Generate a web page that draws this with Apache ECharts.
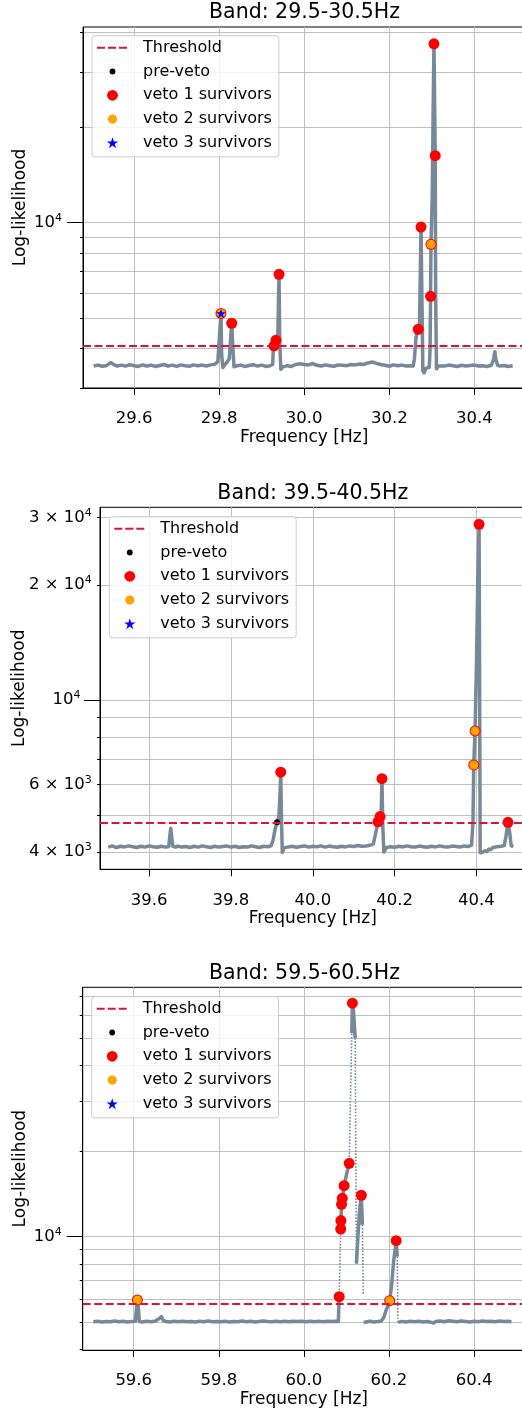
<!DOCTYPE html>
<html>
<head>
<meta charset="utf-8">
<script src="https://cdn.jsdelivr.net/npm/echarts@6/dist/echarts.min.js"></script>
<style>
  html, body { margin: 0; padding: 0; background: #fff; }
  #main { width: 522px; height: 1416px; }
</style>
</head>
<body>
<div id="main"></div>
<script>
// ---- Band 29.5-30.5 Hz ----
const b1Freq = [29.505, 29.515, 29.525, 29.535, 29.545, 29.552, 29.56, 29.57, 29.58, 29.59, 29.6, 29.61, 29.62, 29.63, 29.64, 29.65, 29.66, 29.67, 29.68, 29.69,
  29.7, 29.71, 29.72, 29.73, 29.74, 29.75, 29.76, 29.77, 29.78, 29.79, 29.797, 29.801, 29.8044, 29.806, 29.809, 29.814, 29.819, 29.824, 29.827, 29.8296,
  29.832, 29.835, 29.84, 29.85, 29.86, 29.87, 29.88, 29.89, 29.9, 29.91, 29.92, 29.926, 29.927, 29.929, 29.9337, 29.938, 29.9408, 29.9425, 29.945, 29.95,
  29.96, 29.97, 29.98, 29.99, 30.0, 30.01, 30.02, 30.03, 30.04, 30.05, 30.06, 30.07, 30.08, 30.09, 30.1, 30.11, 30.12, 30.13, 30.14, 30.15,
  30.16, 30.17, 30.18, 30.19, 30.2, 30.21, 30.22, 30.23, 30.24, 30.25, 30.256, 30.259, 30.263, 30.268, 30.271, 30.2746, 30.279, 30.282, 30.286, 30.29,
  30.294, 30.296, 30.297, 30.298, 30.301, 30.303, 30.305, 30.3065, 30.308, 30.309, 30.311, 30.316, 30.32, 30.33, 30.34, 30.35, 30.36, 30.37, 30.38, 30.39,
  30.4, 30.41, 30.42, 30.43, 30.44, 30.445, 30.448, 30.451, 30.455, 30.46, 30.47, 30.48, 30.49];
const b1Like = [3520, 3545, 3515, 3530, 3610, 3560, 3520, 3545, 3520, 3555, 3530, 3510, 3550, 3520, 3545, 3510, 3535, 3560, 3520, 3545,
  3510, 3550, 3530, 3515, 3550, 3530, 3545, 3520, 3550, 3565, 3640, 4400, 5165, 3800, 3480, 3560, 3630, 3720, 4300, 4808,
  4100, 3500, 3520, 3545, 3510, 3535, 3555, 3520, 3545, 3510, 3530, 3560, 3900, 4080, 4250, 4350, 6865, 4200, 3440, 3500,
  3530, 3510, 3560, 3580, 3560, 3550, 3585, 3540, 3520, 3550, 3530, 3515, 3550, 3540, 3530, 3560, 3550, 3575, 3560, 3600,
  3625, 3590, 3560, 3540, 3515, 3550, 3530, 3545, 3520, 3530, 3520, 3700, 4350, 4600, 4750, 9690, 3400, 3350, 3460, 3500,
  3490, 4000, 5852, 8544, 12000, 22000, 36800, 25000, 16290, 6000, 3450, 3520, 3540, 3520, 3545, 3530, 3510, 3540, 3520, 3535,
  3545, 3520, 3530, 3510, 3540, 3700, 3905, 3660, 3540, 3520, 3535, 3510, 3530];
const b1DotFreq = [];
const b1DotLike = [];
const b1Threshold = 4095;
const b1Veto1 = [[29.8044, 5165], [29.8296, 4808], [29.929, 4080], [29.9337, 4250], [29.9408, 6865], [30.268, 4600],
  [30.2746, 9690], [30.297, 5852], [30.298, 8544], [30.305, 36800], [30.308, 16290]];
const b1PreVeto = b1Veto1;
const b1Veto2 = [[29.8044, 5165], [30.298, 8544]];
const b1Veto3 = [[29.8044, 5165]];
const b1YTicks = [3000, 4000, 5000, 6000, 7000, 8000, 9000, 10000, 20000, 30000, 40000];
const b1YLabels = [10000];

// ---- Band 39.5-40.5 Hz ----
const b2Freq = [39.5, 39.51, 39.52, 39.53, 39.54, 39.55, 39.56, 39.57, 39.58, 39.59, 39.6, 39.61, 39.62, 39.63, 39.64, 39.648, 39.651, 39.653, 39.655, 39.658,
  39.665, 39.67, 39.68, 39.69, 39.7, 39.71, 39.72, 39.73, 39.74, 39.75, 39.76, 39.77, 39.78, 39.79, 39.8, 39.81, 39.82, 39.83, 39.84, 39.85,
  39.86, 39.87, 39.88, 39.89, 39.898, 39.903, 39.908, 39.9127, 39.917, 39.92, 39.9217, 39.9235, 39.9255, 39.93, 39.94, 39.95, 39.96, 39.97, 39.98, 39.99,
  40.0, 40.01, 40.02, 40.03, 40.04, 40.05, 40.06, 40.07, 40.08, 40.09, 40.1, 40.11, 40.12, 40.13, 40.14, 40.148, 40.153, 40.1595, 40.1644, 40.167,
  40.168, 40.169, 40.171, 40.1735, 40.18, 40.19, 40.2, 40.21, 40.22, 40.23, 40.24, 40.25, 40.26, 40.27, 40.28, 40.29, 40.3, 40.31, 40.32, 40.33,
  40.34, 40.35, 40.36, 40.37, 40.38, 40.388, 40.3915, 40.3933, 40.3965, 40.4, 40.403, 40.4063, 40.4075, 40.409, 40.415, 40.42, 40.425, 40.43, 40.435, 40.44,
  40.45, 40.46, 40.468, 40.472, 40.477, 40.481, 40.485, 40.49];
const b2Like = [4120, 4150, 4110, 4140, 4125, 4150, 4130, 4110, 4140, 4120, 4150, 4130, 4115, 4140, 4120, 4135, 4450, 4614, 4400, 4140,
  4120, 4145, 4120, 4135, 4110, 4140, 4120, 4150, 4130, 4110, 4140, 4120, 4135, 4150, 4120, 4140, 4110, 4130, 4120, 4150,
  4130, 4110, 4140, 4130, 4150, 4300, 4600, 4783, 4950, 5700, 6470, 4800, 3990, 4100, 4125, 4140, 4115, 4135, 4150, 4120,
  4140, 4130, 4150, 4120, 4145, 4130, 4115, 4140, 4125, 4150, 4135, 4160, 4140, 4150, 4165, 4200, 4450, 4800, 4954, 5050,
  5600, 6225, 4700, 4000, 4110, 4130, 4115, 4140, 4125, 4150, 4130, 4120, 4145, 4130, 4115, 4140, 4125, 4150, 4130, 4120,
  4145, 4135, 4120, 4150, 4135, 4170, 4800, 6760, 8300, 12500, 20000, 28830, 12000, 3980, 3990, 4030, 4010, 4070, 4060, 4110,
  4130, 4140, 4160, 4400, 4783, 4500, 4150, 4130];
const b2DotFreq = [];
const b2DotLike = [];
const b2Threshold = 4780;
const b2PreVeto = [[39.9127, 4783], [39.9217, 6470], [40.1595, 4800], [40.1644, 4954], [40.169, 6225],
  [40.3933, 6760], [40.3965, 8300], [40.4063, 28830], [40.477, 4783]];
const b2Veto1 = [[39.9217, 6470], [40.1595, 4800], [40.1644, 4954], [40.169, 6225],
  [40.3933, 6760], [40.3965, 8300], [40.4063, 28830], [40.477, 4783]];
const b2Veto2 = [[40.3933, 6760], [40.3965, 8300]];
const b2Veto3 = [];
const b2YTicks = [4000, 5000, 6000, 7000, 8000, 9000, 10000, 20000, 30000];
const b2YLabels = [4000, 6000, 10000, 20000, 30000];

// ---- Band 59.5-60.5 Hz ----
const b3Freq = [59.505, 59.515, 59.525, 59.535, 59.545, 59.555, 59.565, 59.575, 59.585, 59.595, 59.604, 59.606, 59.6086, 59.611, 59.613, 59.62, 59.63, 59.64, 59.65, 59.66,
  59.665, 59.67, 59.675, 59.685, 59.695, 59.705, 59.715, 59.725, 59.735, 59.745, 59.755, 59.765, 59.775, 59.785, 59.795, 59.805, 59.815, 59.825, 59.835, 59.845,
  59.855, 59.865, 59.875, 59.885, 59.895, 59.905, 59.915, 59.925, 59.935, 59.945, 59.955, 59.965, 59.975, 59.985, 59.995, 60.005, 60.015, 60.025, 60.035, 60.045,
  60.055, 60.065, 60.075, 60.081, 60.082, 60.083, null, 60.0865, 60.087, 60.0885, 60.0903, 60.0945, 60.1, 60.1065, null, 60.1125, 60.114, 60.1165, 60.1205, null,
  60.1235, 60.127, 60.131, 60.135, 60.1375, null, 60.1405, 60.145, 60.155, 60.165, 60.175, 60.182, 60.188, 60.194, 60.1985, 60.2017, 60.206, 60.211, 60.217, 60.2195,
  null, 60.222, 60.23, 60.24, 60.25, 60.26, 60.27, 60.28, 60.29, 60.3, 60.305, 60.31, 60.32, 60.33, 60.34, 60.35, 60.36, 60.37, 60.38, 60.39,
  60.4, 60.41, 60.42, 60.43, 60.44, 60.45, 60.46, 60.47, 60.48, 60.488];
const b3Like = [5020, 5040, 5010, 5030, 5015, 5045, 5020, 5035, 5010, 5030, 5040, 5500, 5985, 5600, 5030, 5010, 5035, 5020, 5040, 5150,
  5230, 5060, 5030, 5010, 5035, 5020, 5040, 5015, 5030, 5010, 5035, 5020, 5045, 5015, 5030, 5020, 5040, 5010, 5030, 5020,
  5045, 5020, 5035, 5010, 5030, 5050, 5030, 5020, 5040, 5015, 5035, 5020, 5040, 5025, 5035, 5015, 5040, 5020, 5035, 5020,
  5040, 5025, 5035, 5030, 5600, 6150, null, 10640, 11390, 13000, 13650, 15120, 16500, 18120, null, 52000, 66400, 63000, 50000, null,
  8040, 10000, 12500, 13990, 11000, null, 4990, 5020, 5040, 5010, 5030, 5050, 5200, 5550, 5750, 5954, 6700, 8200, 9680, 8500,
  null, 4990, 5030, 5010, 5040, 5020, 5035, 5010, 5030, 4990, 4960, 5030, 5050, 5020, 5060, 5040, 5020, 5045, 5030, 5010,
  5040, 5020, 5045, 5030, 5040, 5020, 5050, 5030, 5040, 5020];
const b3DotFreq = [60.083, 60.0865, null, 60.1065, 60.1125, null, 60.1205, 60.1235, null, 60.1375, 60.1395, null, 60.2195, 60.221];
const b3DotLike = [6150, 10640, null, 18120, 52000, null, 50000, 8040, null, 11000, 6300, null, 8500, 5000];
const b3Threshold = 5795;
const b3Veto1 = [[59.6086, 5985], [60.083, 6150], [60.0865, 10640], [60.087, 11390], [60.0885, 13000], [60.0903, 13650],
  [60.0945, 15120], [60.1065, 18120], [60.114, 66400], [60.135, 13990], [60.2017, 5954], [60.217, 9680]];
const b3PreVeto = b3Veto1;
const b3Veto2 = [[59.6086, 5985], [60.2017, 5954]];
const b3Veto3 = [];
const b3YTicks = [4000, 5000, 6000, 7000, 8000, 9000, 10000, 20000, 30000, 40000, 50000, 60000, 70000];
const b3YLabels = [10000];

const MAJOR = 10000;

const bands = [
  { title: 'Band: 29.5-30.5Hz', freq: b1Freq, like: b1Like, dotFreq: b1DotFreq, dotLike: b1DotLike, thr: b1Threshold,
    pre: b1PreVeto, v1: b1Veto1, v2: b1Veto2, v3: b1Veto3, yTicks: b1YTicks, yLabels: b1YLabels,
    xTicks: [29.6, 29.8, 30.0, 30.2, 30.4], xMin: 29.48, xMax: 30.52, yMin: 3000, yMax: 41600 },
  { title: 'Band: 39.5-40.5Hz', freq: b2Freq, like: b2Like, dotFreq: b2DotFreq, dotLike: b2DotLike, thr: b2Threshold,
    pre: b2PreVeto, v1: b2Veto1, v2: b2Veto2, v3: b2Veto3, yTicks: b2YTicks, yLabels: b2YLabels,
    xTicks: [39.6, 39.8, 40.0, 40.2, 40.4], xMin: 39.48, xMax: 40.52, yMin: 3604, yMax: 31950 },
  { title: 'Band: 59.5-60.5Hz', freq: b3Freq, like: b3Like, dotFreq: b3DotFreq, dotLike: b3DotLike, thr: b3Threshold,
    pre: b3PreVeto, v1: b3Veto1, v2: b3Veto2, v3: b3Veto3, yTicks: b3YTicks, yLabels: b3YLabels,
    xTicks: [59.6, 59.8, 60.0, 60.2, 60.4], xMin: 59.48, xMax: 60.52, yMin: 3990, yMax: 75500 }
];

// pixel layout of the three panels
const layout = [
  { left: 83, top: 27, width: 442.4, height: 361, titleX: 304.5, titleTop: 2, legendX: 92, legendY: 35.7, yNameGap: 54, majorMargin: 21 },
  { left: 100, top: 507.3, width: 425.6, height: 362, titleX: 312.8, titleTop: 482.7, legendX: 109.3, legendY: 516.7, yNameGap: 71.5, majorMargin: 19.5 },
  { left: 82.7, top: 987.3, width: 442.4, height: 362.7, titleX: 304.5, titleTop: 962.7, legendX: 91.7, legendY: 996.7, yNameGap: 54, majorMargin: 21 }
];

const FONT = 'DejaVu Sans';
const GRAY = '#778899';
const GRID_LINE = '#c0c0c0';
const COLORS = { thr: '#DC143C', pre: '#000000', v1: '#FF0000', v2: '#FFA500', v3: '#0000FF' };

function circlePath(cx, cy, r) {
  return `M${cx - r},${cy}a${r},${r} 0 1,0 ${2 * r},0a${r},${r} 0 1,0 ${-2 * r},0Z`;
}
function starPath(cx, cy, R) {
  let d = '';
  for (let k = 0; k < 10; k++) {
    const rad = k % 2 ? R * 0.382 : R;
    const a = k * Math.PI / 5;
    d += (k ? 'L' : 'M') + (cx + rad * Math.sin(a)).toFixed(2) + ',' + (cy - rad * Math.cos(a)).toFixed(2);
  }
  return d + 'Z';
}
const STAR = 'path://' + starPath(10, 10, 10);
// legend icons share one 41x12 box so they keep their own sizes
const BOX = 'M0,0L0,0M41,12L41,12';
const legendItems = [
  { name: 'Threshold', icon: 'path://' + BOX + 'M0,5H8V7H0ZM11,5H19V7H11ZM22,5H30V7H22Z', itemStyle: { color: COLORS.thr } },
  { name: 'pre-veto', icon: 'path://' + BOX + circlePath(15.5, 6, 2.9), itemStyle: { color: COLORS.pre } },
  { name: 'veto 1 survivors', icon: 'path://' + BOX + circlePath(15.5, 6, 5.4), itemStyle: { color: COLORS.v1 } },
  { name: 'veto 2 survivors', icon: 'path://' + BOX + circlePath(15.5, 6, 4.6), itemStyle: { color: COLORS.v2 } },
  { name: 'veto 3 survivors', icon: 'path://' + BOX + starPath(15.5, 6.4, 6), itemStyle: { color: COLORS.v3 } }
];

function toData(freq, like) {
  return freq.map((f, i) => (f === null || like[i] === null) ? ['-', '-'] : [f, like[i]]);
}
function sciLabel(v) {
  const e = Math.floor(Math.log10(v) + 1e-9);
  const m = Math.round(v / Math.pow(10, e));
  return (m === 1 ? '' : m + ' × ') + '10{sup|' + e + '}';
}

const textBase = { color: '#000', fontFamily: FONT };
const labelStyle = {
  ...textBase, fontSize: 16.5, formatter: sciLabel,
  rich: { sup: { ...textBase, fontSize: 11, padding: [0, 0, 9, 0] } }
};
const option = {
  animation: false,
  backgroundColor: '#fff',
  title: [], legend: [], grid: [], xAxis: [], yAxis: [], series: []
};

bands.forEach((b, i) => {
  const L = layout[i];
  const minorLabels = b.yLabels.filter(v => v !== MAJOR);
  option.title.push({
    text: b.title, left: L.titleX, top: L.titleTop, textAlign: 'center', padding: 0,
    textStyle: { ...textBase, fontSize: 20.5, fontWeight: 'normal' }
  });
  option.grid.push({
    left: L.left, top: L.top, width: L.width, height: L.height,
    show: true, borderColor: '#000', borderWidth: 1, outerBoundsMode: 'none'
  });
  option.legend.push({
    orient: 'vertical', left: L.legendX, top: L.legendY, padding: [3, 7, 5, 5],
    itemWidth: 41, itemHeight: 12, itemGap: 5.8, selectedMode: false, symbolKeepAspect: true,
    backgroundColor: 'rgba(255,255,255,0.8)', borderColor: '#cccccc', borderWidth: 1, borderRadius: 3,
    itemStyle: { borderWidth: 0 },
    textStyle: { ...textBase, fontSize: 16, lineHeight: 18 },
    data: legendItems
  });
  option.xAxis.push({
    gridIndex: i, type: 'value', min: b.xMin, max: b.xMax,
    name: 'Frequency [Hz]', nameLocation: 'middle', nameGap: 41, nameMoveOverlap: false,
    nameTextStyle: { ...textBase, fontSize: 17 },
    axisLine: { onZero: false, lineStyle: { color: '#000', width: 1 } },
    axisTick: { customValues: b.xTicks, length: 7, lineStyle: { color: '#000' } },
    axisLabel: { customValues: b.xTicks, formatter: v => v.toFixed(1), margin: 22.5, ...textBase, fontSize: 16.5 },
    splitLine: { show: true, lineStyle: { color: GRID_LINE, width: 1 } }
  });
  // main y axis: short ticks, grid lines, labels on the minor values
  option.yAxis.push({
    gridIndex: i, type: 'log', logBase: 10, min: b.yMin, max: b.yMax, position: 'left',
    name: 'Log-likelihood', nameLocation: 'middle', nameGap: L.yNameGap, nameRotate: 90, nameMoveOverlap: false,
    nameTextStyle: { ...textBase, fontSize: 17 },
    axisLine: { show: true, onZero: false, lineStyle: { color: '#000', width: 1 } },
    axisTick: { customValues: b.yTicks, length: 3, lineStyle: { color: '#000' } },
    axisLabel: { show: minorLabels.length > 0, customValues: minorLabels, margin: 8.3, ...labelStyle },
    splitLine: { show: true, lineStyle: { color: GRID_LINE, width: 1 } },
    minorTick: { show: false }, minorSplitLine: { show: false }
  });
  // second axis carries the long major tick and its label
  option.yAxis.push({
    gridIndex: i, type: 'log', logBase: 10, min: b.yMin, max: b.yMax, position: 'left',
    axisLine: { show: false },
    axisTick: { show: true, customValues: [MAJOR], length: 16, lineStyle: { color: '#000' } },
    axisLabel: { customValues: [MAJOR], margin: L.majorMargin, ...labelStyle },
    splitLine: { show: false }
  });

  const ax = { xAxisIndex: i, yAxisIndex: 2 * i, silent: true, z: 2 };
  const fill = color => ({ color, opacity: 1 });
  option.series.push(
    { ...ax, type: 'line', name: 'likelihood', data: toData(b.freq, b.like), symbol: 'none', connectNulls: false,
      lineStyle: { color: GRAY, width: 3.5, join: 'round' } },
    { ...ax, type: 'line', name: 'likelihood dots', data: toData(b.dotFreq, b.dotLike), symbol: 'none', connectNulls: false,
      lineStyle: { color: GRAY, width: 1.6, type: 'dotted' } },
    { ...ax, type: 'line', name: 'Threshold', data: [], itemStyle: { color: COLORS.thr },
      markLine: { symbol: 'none', silent: true, label: { show: false },
        lineStyle: { color: COLORS.thr, type: [8, 3.5], width: 2 }, data: [{ yAxis: b.thr }] } },
    { ...ax, type: 'scatter', name: 'pre-veto', data: b.pre, symbol: 'circle', symbolSize: 6, itemStyle: fill(COLORS.pre) },
    { ...ax, type: 'scatter', name: 'veto 1 survivors', data: b.v1, symbol: 'circle', symbolSize: 11, itemStyle: fill(COLORS.v1) },
    { ...ax, type: 'scatter', name: 'veto 2 survivors', data: b.v2, symbol: 'circle', symbolSize: 9, itemStyle: fill(COLORS.v2) },
    { ...ax, type: 'scatter', name: 'veto 3 survivors', data: b.v3, symbol: STAR, symbolKeepAspect: true, symbolSize: 10,
      itemStyle: fill(COLORS.v3) }
  );
});

const chart = echarts.init(document.getElementById('main'), null, { renderer: 'canvas' });
chart.setOption(option);
</script>
</body>
</html>
